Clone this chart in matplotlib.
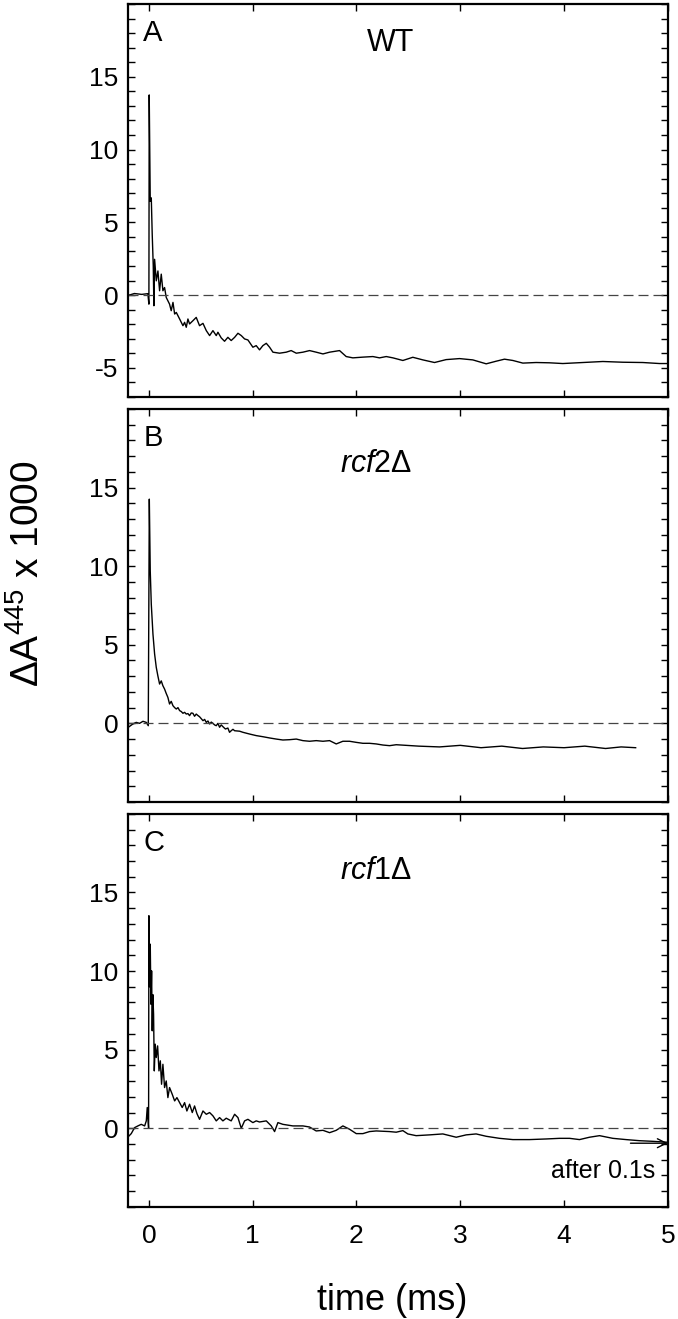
import matplotlib
matplotlib.use("Agg")
import matplotlib.pyplot as plt
from matplotlib.ticker import MultipleLocator

plt.rcParams['font.family'] = ['Liberation Sans', 'DejaVu Sans']
plt.rcParams['mathtext.fontset'] = 'custom'
plt.rcParams['mathtext.rm'] = 'Liberation Sans'
plt.rcParams['mathtext.it'] = 'Liberation Sans:italic'
plt.rcParams['axes.unicode_minus'] = False

# time axis in ms, signal is dA(445) x 1000
wt_t = [-0.19, -0.14, -0.07, -0.01, 0.0, 0.003, 0.013, 0.023, 0.032, 0.042,
        0.048, 0.055, 0.071, 0.087, 0.103, 0.119, 0.135, 0.151, 0.167, 0.183,
        0.199, 0.215, 0.232, 0.248, 0.264, 0.296, 0.328, 0.344, 0.360, 0.376,
        0.392, 0.424, 0.456, 0.488, 0.521, 0.553, 0.585, 0.617, 0.649, 0.665,
        0.697, 0.729, 0.761, 0.793, 0.826, 0.858, 0.890, 0.922, 0.954, 1.002,
        1.034, 1.066, 1.098, 1.131, 1.163, 1.195, 1.259, 1.323, 1.371, 1.420,
        1.484, 1.548, 1.612, 1.677, 1.741, 1.837, 1.901, 1.965, 2.062, 2.158,
        2.222, 2.287, 2.351, 2.447, 2.543, 2.640, 2.752, 2.864, 2.993, 3.121,
        3.250, 3.346, 3.426, 3.507, 3.603, 3.731, 3.860, 3.988, 4.181, 4.374,
        4.566, 4.759, 4.920, 5.0]
wt_v = [0.0, 0.11, 0.05, 0.1, -0.62, 13.75, 6.45, 6.68, 4.17, 2.0,
        -0.73, 2.46, 0.98, 1.66, 0.30, 1.44, 0.30, 0.52, -0.16, -0.39,
        -0.62, -1.07, -0.50, -1.30, -1.19, -1.64, -2.10, -1.87, -2.21, -1.64,
        -1.98, -1.76, -1.53, -2.10, -1.94, -2.44, -2.78, -2.44, -2.78, -2.55,
        -2.94, -3.17, -2.90, -3.12, -2.90, -2.62, -2.78, -3.01, -3.08, -3.58,
        -3.47, -3.76, -3.47, -3.31, -3.58, -3.92, -3.99, -3.92, -3.81, -3.99,
        -3.92, -3.81, -3.92, -4.04, -3.92, -3.81, -4.22, -4.31, -4.26, -4.22,
        -4.31, -4.22, -4.31, -4.49, -4.27, -4.45, -4.63, -4.43, -4.36, -4.45,
        -4.72, -4.54, -4.40, -4.49, -4.67, -4.63, -4.65, -4.70, -4.63, -4.56,
        -4.61, -4.63, -4.70, -4.70]

rcf2_t = [-0.19, -0.154, -0.122, -0.090, -0.057, -0.025, -0.006, 0.004, 0.013, 0.023,
          0.039, 0.055, 0.071, 0.087, 0.103, 0.119, 0.135, 0.151, 0.167, 0.183,
          0.199, 0.215, 0.232, 0.248, 0.264, 0.280, 0.296, 0.312, 0.328, 0.344,
          0.360, 0.376, 0.392, 0.408, 0.424, 0.440, 0.456, 0.472, 0.488, 0.504,
          0.521, 0.537, 0.553, 0.569, 0.585, 0.601, 0.617, 0.633, 0.649, 0.665,
          0.681, 0.697, 0.713, 0.737, 0.761, 0.777, 0.793, 0.810, 0.826, 0.874,
          0.906, 0.970, 1.034, 1.098, 1.163, 1.227, 1.291, 1.355, 1.420, 1.484,
          1.548, 1.612, 1.677, 1.741, 1.805, 1.869, 1.933, 1.998, 2.062, 2.126,
          2.190, 2.255, 2.319, 2.383, 2.6, 2.8, 3.0, 3.2, 3.4, 3.6,
          3.8, 4.0, 4.2, 4.4, 4.55, 4.69]
rcf2_v = [-0.21, -0.04, 0.06, 0.0, 0.13, 0.06, -0.15, 14.26, 9.70, 7.58,
          5.68, 4.41, 3.56, 3.0, 2.50, 2.7, 2.39, 2.18, 1.9, 1.65,
          1.23, 1.40, 1.12, 1.0, 0.91, 1.0, 0.81, 0.75, 0.64, 0.7,
          0.59, 0.62, 0.49, 0.66, 0.64, 0.45, 0.59, 0.5, 0.42, 0.3,
          0.17, 0.25, 0.06, 0.15, -0.04, 0.08, 0.0, -0.1, -0.15, 0.0,
          -0.25, -0.1, -0.21, -0.36, -0.3, -0.57, -0.47, -0.38, -0.47, -0.5,
          -0.57, -0.68, -0.78, -0.85, -0.93, -1.0, -1.06, -1.04, -1.0, -1.10,
          -1.14, -1.10, -1.14, -1.10, -1.31, -1.14, -1.14, -1.21, -1.27, -1.27,
          -1.31, -1.38, -1.42, -1.36, -1.45, -1.5, -1.4, -1.55, -1.45, -1.6,
          -1.5, -1.55, -1.45, -1.6, -1.5, -1.55]

rcf1_t = [-0.192, -0.170, -0.138, -0.106, -0.074, -0.041, -0.025, -0.016, -0.003, 0.0,
          0.006, 0.013, 0.020, 0.026, 0.032, 0.038, 0.045, 0.052, 0.061, 0.071,
          0.084, 0.097, 0.110, 0.122, 0.135, 0.151, 0.167, 0.183, 0.199, 0.225,
          0.248, 0.270, 0.296, 0.321, 0.344, 0.366, 0.392, 0.418, 0.440, 0.463,
          0.488, 0.521, 0.553, 0.585, 0.617, 0.649, 0.681, 0.713, 0.745, 0.793,
          0.826, 0.858, 0.890, 0.922, 0.954, 1.002, 1.034, 1.066, 1.131, 1.179,
          1.211, 1.243, 1.291, 1.387, 1.484, 1.548, 1.612, 1.677, 1.741, 1.805,
          1.869, 1.933, 1.998, 2.062, 2.126, 2.190, 2.318, 2.383, 2.447, 2.495,
          2.575, 2.704, 2.832, 2.961, 3.057, 3.153, 3.250, 3.378, 3.507, 3.667,
          3.828, 3.956, 4.053, 4.149, 4.245, 4.342, 4.470, 4.598, 4.727, 4.855,
          5.0]
rcf1_v = [-0.49, -0.34, 0.04, 0.15, 0.25, 0.15, 0.47, 1.32, 0.0, 13.52,
          9.0, 11.71, 7.89, 10.01, 6.20, 8.5, 7.26, 3.65, 5.35, 4.50,
          5.24, 3.65, 4.29, 2.80, 4.07, 2.59, 3.01, 1.95, 2.59, 2.16,
          1.74, 1.95, 1.63, 1.32, 1.63, 1.10, 1.53, 1.00, 1.42, 0.93,
          0.57, 1.10, 0.89, 1.00, 0.79, 0.47, 0.68, 0.47, 0.64, 0.47,
          0.89, 0.68, 0.0, 0.47, 0.57, 0.36, 0.47, 0.40, 0.47, 0.15,
          -0.21, 0.36, 0.25, 0.15, 0.15, 0.08, -0.17, -0.13, -0.28, -0.13,
          0.15, -0.06, -0.34, -0.34, -0.21, -0.17, -0.21, -0.25, -0.15, -0.36,
          -0.47, -0.42, -0.36, -0.57, -0.42, -0.36, -0.51, -0.64, -0.72, -0.72,
          -0.68, -0.64, -0.64, -0.72, -0.57, -0.47, -0.64, -0.72, -0.79, -0.83,
          -0.89]

letters = ['A', 'B', 'C']
strains = ['WT', '$\\mathit{rcf2}$\u0394', '$\\mathit{rcf1}$\u0394']
series = [(wt_t, wt_v), (rcf2_t, rcf2_v), (rcf1_t, rcf1_v)]
ylims = [(-7, 20), (-5, 20), (-5, 20)]
yticks = [[-5, 0, 5, 10, 15], [0, 5, 10, 15], [0, 5, 10, 15]]
strain_x = [2.10, 1.84, 1.84]
strain_y = [0.90, 0.86, 0.855]

fig = plt.figure(figsize=(6.78, 13.19), dpi=100)

left, width, height = 0.189, 0.796, 0.298
bottoms = [0.699, 0.392, 0.085]

for i in range(3):
    ax = fig.add_axes([left, bottoms[i], width, height])
    t, v = series[i]
    ax.plot(t, v, color='black', lw=1.0)
    ax.axhline(0, color='#444444', lw=0.9, dashes=(8, 4))
    ax.set_xlim(-0.2, 5.0)
    ax.set_ylim(*ylims[i])
    ax.set_xticks([0, 1, 2, 3, 4, 5])
    ax.set_yticks(yticks[i])
    ax.yaxis.set_minor_locator(MultipleLocator(1))
    ax.tick_params(which='both', direction='in', top=True, right=True,
                   length=5, width=1, labelsize=19, pad=7)
    ax.tick_params(axis='x', pad=12)
    if i < 2:
        ax.tick_params(axis='x', labelbottom=False)
    for sp in ax.spines.values():
        sp.set_linewidth(1.6)
    ax.text(0.028, 0.925, letters[i], transform=ax.transAxes,
            fontsize=21, va='center', ha='left')
    ax.text(strain_x[i], strain_y[i], strains[i], transform=ax.get_xaxis_transform(),
            fontsize=22, va='center', ha='left')
    if i == 2:
        ax.annotate('', xy=(5.0, -0.95), xytext=(4.64, -0.95),
                    arrowprops=dict(arrowstyle='->', color='black', lw=1.0,
                                    mutation_scale=16, shrinkA=0, shrinkB=0))
        ax.text(4.88, -2.7, 'after 0.1s', fontsize=18, ha='right', va='center')

fig.text(0.041, 0.565, '\u0394A$^{445}$ x 1000', rotation=90,
         fontsize=28, ha='center', va='center')
fig.text(0.578, 0.014, 'time (ms)', fontsize=26, ha='center', va='center')

fig.savefig('out.png', dpi=100)
